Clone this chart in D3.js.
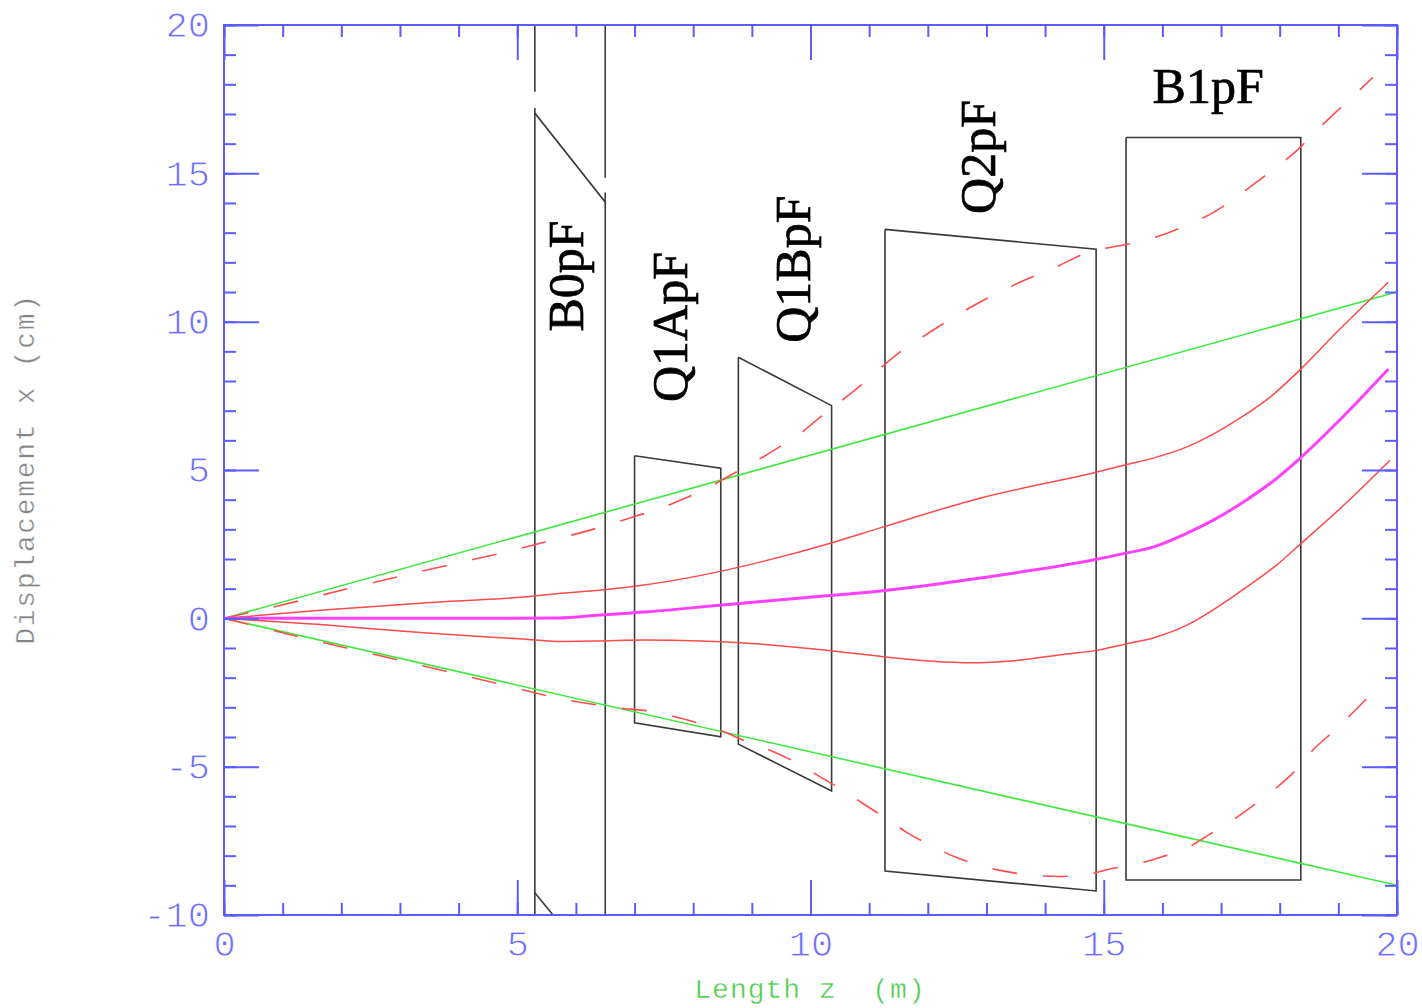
<!DOCTYPE html>
<html>
<head>
<meta charset="utf-8">
<script src="https://cdn.jsdelivr.net/npm/d3@7"></script>
<style>
  html, body { margin: 0; padding: 0; background: #fff; }
  svg { display: block; }
  .tick-label { font-family: "Liberation Mono", "DejaVu Sans Mono", monospace; }
</style>
</head>
<body>
<svg id="chart" width="1422" height="1008"></svg>
<script>
// ---- axes ----
const zDomain = [0, 20];          // length z (m)
const xDomain = [-10, 20];        // displacement x (cm)
const zMajorTicks = [0, 5, 10, 15, 20];
const xMajorTicks = [-10, -5, 0, 5, 10, 15, 20];
const zMinorTicks = d3.range(0, 21, 1);
const xMinorTicks = d3.range(-10, 21, 1);
const zAxisTitle = "Length z  (m)";
const xAxisTitle = "Displacement x (cm)";

// ---- beam envelopes: [z (m), x (cm)] ----
const acceptanceUpper = [[0, 0], [20, 11]];
const acceptanceLower = [[0, 0], [20, -9]];

const centralOrbit = [
  [0, 0], [2, 0], [4, 0], [5.7, 0.01], [6.41, 0.11], [7.16, 0.21], [8.5, 0.45],
  [9.94, 0.7], [11.19, 0.92], [12.89, 1.36], [14.88, 1.99], [15.36, 2.19],
  [15.84, 2.4], [16.42, 2.87], [16.86, 3.3], [17.44, 4.0], [17.95, 4.72],
  [18.35, 5.4], [18.98, 6.6], [19.85, 8.4]
];

const orbitUpper = [
  [0, 0], [1.7, 0.28], [3.41, 0.52], [5.11, 0.72], [5.68, 0.83], [6.48, 0.96],
  [7.16, 1.12], [8.5, 1.6], [9.19, 1.92], [10.37, 2.55], [11.19, 3.05],
  [12.89, 4.05], [14.88, 4.93], [15.36, 5.17], [15.84, 5.4], [16.42, 5.78],
  [16.86, 6.2], [17.3, 6.72], [17.83, 7.45], [18.36, 8.4], [19.0, 9.7], [19.85, 11.33]
];

const orbitLower = [
  [0, 0], [1.7, -0.22], [3.41, -0.49], [5.11, -0.7], [5.68, -0.78], [6.41, -0.76],
  [7.16, -0.73], [8.12, -0.76], [8.8, -0.82], [10.38, -1.1], [11.27, -1.3],
  [12.09, -1.45], [12.72, -1.5], [13.52, -1.42], [14.37, -1.2], [14.88, -1.08],
  [15.36, -0.87], [15.84, -0.66], [16.42, -0.23], [16.86, 0.28], [17.44, 1.06],
  [17.95, 1.8], [18.35, 2.5], [19.15, 3.92], [19.88, 5.33]
];

const envelopeUpper = [
  [0, 0], [1.26, 0.58], [2.15, 1.02], [3.03, 1.43], [3.9, 1.83], [4.79, 2.23],
  [5.66, 2.67], [6.53, 3.14], [6.96, 3.41], [7.4, 3.68], [7.83, 4.02], [8.24, 4.39],
  [8.61, 4.8], [9.02, 5.24], [9.39, 5.68], [9.79, 6.18], [10.13, 6.72], [10.5, 7.29],
  [10.84, 7.83], [11.19, 8.43], [11.53, 8.98], [12.0, 9.6], [12.8, 10.56],
  [13.57, 11.33], [14.25, 11.9], [14.68, 12.3], [15.1, 12.5], [15.57, 12.68],
  [15.99, 12.92], [16.42, 13.26], [16.85, 13.66], [17.2, 14.1], [17.58, 14.67],
  [17.95, 15.21], [18.3, 15.78], [18.6, 16.39], [18.94, 17.03], [19.25, 17.6],
  [19.59, 18.24]
];

const envelopeLower = [
  [0, 0], [1.45, -0.7], [3, -1.42], [4.5, -2.12], [5.85, -2.75], [6.74, -3.02],
  [7.21, -3.12], [7.64, -3.29], [8.08, -3.53], [8.49, -3.8], [8.93, -4.17],
  [9.34, -4.47], [9.77, -4.88], [10.13, -5.3], [10.54, -5.78], [10.9, -6.25],
  [11.3, -6.76], [11.66, -7.24], [12.07, -7.67], [12.46, -8.04], [12.89, -8.33],
  [13.32, -8.53], [13.78, -8.66], [14.22, -8.7], [14.68, -8.65], [15.1, -8.45],
  [15.57, -8.28], [15.99, -8.04], [16.42, -7.74], [16.79, -7.3], [17.2, -6.8],
  [17.56, -6.29], [17.92, -5.75], [18.26, -5.15], [18.57, -4.43], [18.94, -3.77],
  [19.54, -2.59]
];

// ---- magnet apertures: outline segments [z, x] ----
const magnetNames = ["B0pF", "Q1ApF", "Q1BpF", "Q2pF", "B1pF"];
const magnetOutlines = [
  [ // B0pF
    [[5.3, 20], [5.3, 17.75]],
    [[6.5, 20], [6.5, 14.85]],
    [[5.3, 17.2], [5.3, 17.03], [6.5, 14.03], [6.5, 14.35]],
    [[5.3, 17.03], [5.3, -10.5]],
    [[6.5, 14.03], [6.5, -10.5]],
    [[5.3, -9.25], [6.5, -12.15]]
  ],
  [ // Q1ApF
    [[7.0, 5.48], [8.47, 5.06], [8.47, -3.99], [7.0, -3.52], [7.0, 5.48]]
  ],
  [ // Q1BpF
    [[8.77, 8.8], [10.36, 7.17], [10.36, -5.82], [8.77, -4.24], [8.77, 8.8]]
  ],
  [ // Q2pF
    [[11.27, 13.11], [14.87, 12.44], [14.87, -9.19], [11.27, -8.52], [11.27, 13.11]]
  ],
  [ // B1pF
    [[15.38, 16.21], [18.36, 16.21], [18.36, -8.82], [15.38, -8.82], [15.38, 16.21]]
  ]
];
// label anchors in data units [z, x] and orientation
const magnetLabelAnchor = [[6.12, 11.54], [7.9, 9.82], [9.99, 11.77], [13.15, 15.55], [16.78, 17.37]];
const magnetLabelRotated = [true, true, true, true, false];

// ---- layout ----
const svg = d3.select("#chart");
const W = 1422, H = 1008;
const plotLeft = 224, plotRight = 1397, plotTop = 25, plotBottom = 915;
const axisBlue = "#5b5bff";
const labelBlue = "#6c6cff";

const z = d3.scaleLinear().domain(zDomain).range([plotLeft, plotRight]);
const x = d3.scaleLinear().domain(xDomain).range([plotBottom, plotTop]);

svg.append("rect").attr("width", W).attr("height", H).attr("fill", "#fff");

svg.append("defs").append("clipPath").attr("id", "plot-clip")
  .append("rect").attr("x", plotLeft).attr("y", plotTop)
  .attr("width", plotRight - plotLeft).attr("height", plotBottom - plotTop);

const plot = svg.append("g").attr("clip-path", "url(#plot-clip)");

// magnet outlines
const seg = d3.line().x(d => z(d[0])).y(d => x(d[1]));
magnetOutlines.forEach(parts => {
  parts.forEach(p => {
    plot.append("path").attr("d", seg(p))
      .attr("fill", "none").attr("stroke", "#3a3a3a")
      .attr("stroke-width", 1.6).attr("stroke-linejoin", "miter");
  });
});

// beam curves
const curve = d3.line().x(d => z(d[0])).y(d => x(d[1])).curve(d3.curveMonotoneX);
const drawCurve = (data, color, width, dash) => {
  const p = plot.append("path").attr("d", curve(data))
    .attr("fill", "none").attr("stroke", color)
    .attr("stroke-width", width).attr("stroke-linecap", "butt");
  if (dash) p.attr("stroke-dasharray", dash);
};
drawCurve(acceptanceUpper, "#3fe83f", 1.6);
drawCurve(acceptanceLower, "#3fe83f", 1.6);
drawCurve(envelopeUpper, "#ff4d4d", 1.6, "25 26");
drawCurve(envelopeLower, "#ff4d4d", 1.6, "25 26");
drawCurve(orbitUpper, "#ff4a4a", 1.5);
drawCurve(orbitLower, "#ff4a4a", 1.5);
drawCurve(centralOrbit, "#ff40ff", 3);

// magnet labels
magnetNames.forEach((name, i) => {
  const [lz, lx] = magnetLabelAnchor[i];
  const t = svg.append("text").text(name)
    .attr("font-family", "'Liberation Serif', 'Times New Roman', serif")
    .attr("font-size", 50).attr("fill", "#000")
    .attr("stroke", "#000").attr("stroke-width", 0.7)
    .attr("text-anchor", "middle");
  if (magnetLabelRotated[i]) {
    t.attr("transform", `translate(${z(lz)},${x(lx)}) rotate(-90)`);
  } else {
    t.attr("x", z(lz)).attr("y", x(lx));
  }
});

// ---- axes: ticks point inward on all four sides ----
function styleAxis(g) {
  g.select(".domain").remove();
  g.selectAll(".tick line").attr("stroke", axisBlue).attr("stroke-width", 2);
  g.selectAll(".tick text")
    .attr("class", "tick-label")
    .attr("fill", labelBlue)
    .attr("stroke", "#fff").attr("stroke-width", 0.9)
    .style("paint-order", "fill")
    .attr("font-size", 37);
}
const noLabel = () => "";
const plainLabel = d => String(d);

svg.append("g").attr("transform", `translate(0,${plotBottom})`)
  .call(d3.axisBottom(z).tickValues(zMinorTicks).tickSize(-12).tickFormat(noLabel))
  .call(styleAxis);
svg.append("g").attr("transform", `translate(0,${plotBottom})`)
  .call(d3.axisBottom(z).tickValues(zMajorTicks).tickSize(-35).tickPadding(15).tickFormat(plainLabel))
  .call(styleAxis);
svg.append("g").attr("transform", `translate(0,${plotTop})`)
  .call(d3.axisTop(z).tickValues(zMinorTicks).tickSize(-12).tickFormat(noLabel))
  .call(styleAxis);
svg.append("g").attr("transform", `translate(0,${plotTop})`)
  .call(d3.axisTop(z).tickValues(zMajorTicks).tickSize(-35).tickFormat(noLabel))
  .call(styleAxis);

svg.append("g").attr("transform", `translate(${plotLeft},0)`)
  .call(d3.axisLeft(x).tickValues(xMinorTicks).tickSize(-12).tickFormat(noLabel))
  .call(styleAxis);
svg.append("g").attr("transform", `translate(${plotLeft},0)`)
  .call(d3.axisLeft(x).tickValues(xMajorTicks).tickSize(-35).tickPadding(14).tickFormat(plainLabel))
  .call(styleAxis);
svg.append("g").attr("transform", `translate(${plotRight},0)`)
  .call(d3.axisRight(x).tickValues(xMinorTicks).tickSize(-12).tickFormat(noLabel))
  .call(styleAxis);
svg.append("g").attr("transform", `translate(${plotRight},0)`)
  .call(d3.axisRight(x).tickValues(xMajorTicks).tickSize(-35).tickFormat(noLabel))
  .call(styleAxis);

// frame
svg.append("rect").attr("x", plotLeft).attr("y", plotTop)
  .attr("width", plotRight - plotLeft).attr("height", plotBottom - plotTop)
  .attr("fill", "none").attr("stroke", axisBlue).attr("stroke-width", 2);

// axis titles
svg.append("text").text(zAxisTitle)
  .attr("x", 810).attr("y", 998)
  .attr("text-anchor", "middle")
  .attr("font-family", "'Liberation Mono', 'DejaVu Sans Mono', monospace")
  .attr("font-size", 28).attr("letter-spacing", 1)
  .attr("fill", "#4ccc4c")
  .attr("stroke", "#fff").attr("stroke-width", 0.4).style("paint-order", "fill")
  .style("white-space", "pre");

svg.append("text").text(xAxisTitle)
  .attr("transform", `translate(34,469) rotate(-90)`)
  .attr("text-anchor", "middle")
  .attr("font-family", "'Liberation Mono', 'DejaVu Sans Mono', monospace")
  .attr("font-size", 28).attr("letter-spacing", 1.7)
  .attr("fill", "#858585")
  .attr("stroke", "#fff").attr("stroke-width", 0.4).style("paint-order", "fill");
</script>
</body>
</html>
